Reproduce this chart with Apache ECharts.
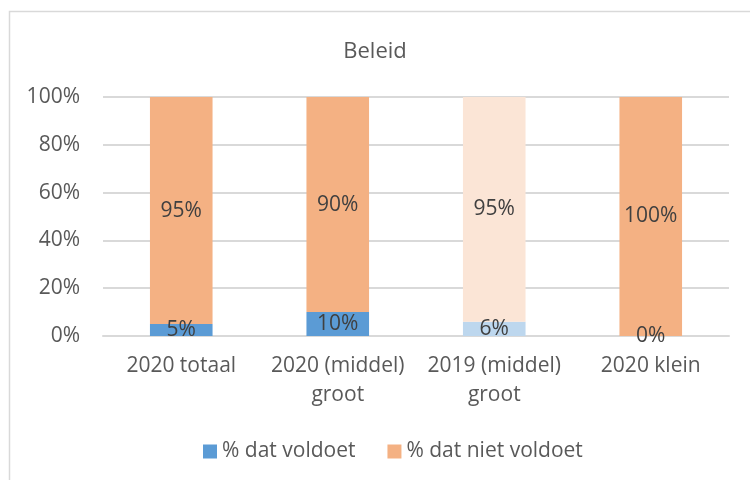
<!DOCTYPE html>
<html>
<head>
<meta charset="utf-8">
<script src="https://cdn.jsdelivr.net/npm/echarts@6/dist/echarts.min.js"></script>
<style>
  html, body { margin: 0; padding: 0; background: #fff; }
  #chart { width: 750px; height: 480px; }
</style>
</head>
<body>
<div id="chart"></div>
<script>
// categorieen en waarden (in %)
const categories = ['2020 totaal', '2020 (middel)\ngroot', '2019 (middel)\ngroot', '2020 klein'];
const voldoet = [5, 10, 6, 0];
const nietVoldoet = [95, 90, 95, 100];
const yTicks = [0, 20, 40, 60, 80, 100];

// kleuren, 2019 staaf is lichter
const blue = '#5b9bd5';
const orange = '#f4b183';
const blueLight = '#bdd7ee';
const orangeLight = '#fbe5d6';
const lightIndex = 2;

const font = 'Open Sans';
const fs = 21;

function items(values, normal, light) {
  return values.map((v, i) => ({
    value: v,
    itemStyle: { color: i === lightIndex ? light : normal }
  }));
}

const label = {
  show: true,
  position: 'inside',
  formatter: '{c}%',
  color: '#404040',
  fontFamily: font,
  fontSize: fs
};

const myChart = echarts.init(document.getElementById('chart'));
const option = {
  animation: false,
  title: {
    text: 'Beleid',
    left: 'center',
    top: 36,
    textStyle: { color: '#595959', fontFamily: font, fontSize: 22, fontWeight: 'normal' }
  },
  graphic: [{
    type: 'rect',
    shape: { x: 9.5, y: 11.5, width: 760, height: 500 },
    style: { fill: 'none', stroke: '#d9d9d9', lineWidth: 1.5 },
    silent: true
  }],
  legend: {
    bottom: 13,
    left: 198,
    itemWidth: 14,
    itemHeight: 14,
    itemGap: 32,
    itemTextGap: 5,
    icon: 'rect',
    textStyle: { color: '#595959', fontFamily: font, fontSize: fs },
    data: [
      { name: '% dat voldoet', itemStyle: { color: blue } },
      { name: '% dat niet voldoet', itemStyle: { color: orange } }
    ]
  },
  grid: { left: 103, right: 21, top: 97, bottom: 144, containLabel: false },
  xAxis: {
    type: 'category',
    data: categories,
    axisLine: { lineStyle: { color: '#d9d9d9', width: 2 } },
    axisTick: { show: false },
    axisLabel: {
      color: '#595959', fontFamily: font, fontSize: fs, lineHeight: 29, margin: 16, interval: 0
    }
  },
  yAxis: {
    type: 'value',
    min: yTicks[0],
    max: yTicks[yTicks.length - 1],
    interval: 20,
    axisLine: { show: false },
    axisTick: { show: false },
    splitLine: { lineStyle: { color: '#d9d9d9', width: 2 } },
    axisLabel: {
      formatter: '{value}%', color: '#595959', fontFamily: font, fontSize: fs, margin: 23
    }
  },
  series: [
    {
      name: '% dat voldoet',
      type: 'bar',
      stack: 'totaal',
      barWidth: '40%',
      data: items(voldoet, blue, blueLight),
      label: label
    },
    {
      name: '% dat niet voldoet',
      type: 'bar',
      stack: 'totaal',
      barWidth: '40%',
      data: items(nietVoldoet, orange, orangeLight),
      label: label
    }
  ]
};
myChart.setOption(option, true);
</script>
</body>
</html>
